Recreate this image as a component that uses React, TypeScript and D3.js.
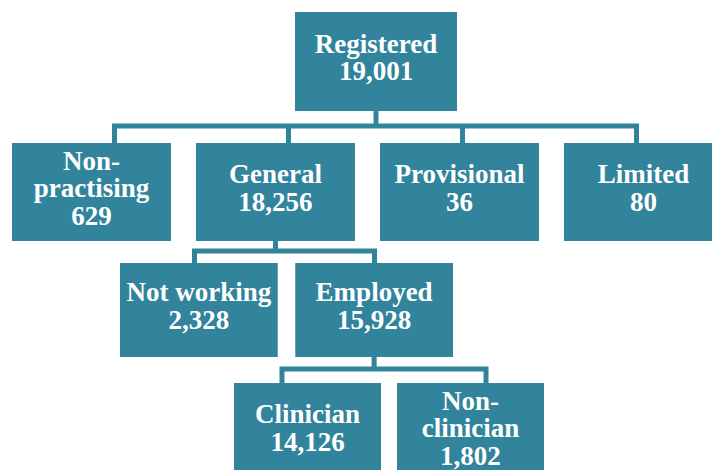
import * as d3 from "d3";

// node names, counts and parent links
const names = ["Registered", "Non-practising", "General", "Provisional", "Limited", "Not working", "Employed", "Clinician", "Non-clinician"];
const counts = [19001, 629, 18256, 36, 80, 2328, 15928, 14126, 1802];
const parents = ["", "Registered", "Registered", "Registered", "Registered", "General", "General", "Employed", "Employed"];

const W = 712;
const H = 470;
const teal = "#31849b";
const fmt = d3.format(",");

type Row = { name: string; count: number; parent: string };

const rows: Row[] = names.map((n, i) => ({ name: n, count: counts[i], parent: parents[i] }));
const root = d3
  .stratify<Row>()
  .id(d => d.name)
  .parentId(d => d.parent || null)(rows);

// layout per depth
const rowTop = d3.scaleOrdinal<number, number>().domain([0, 1, 2, 3]).range([12, 143, 263, 383]);
const rowH = d3.scaleOrdinal<number, number>().domain([0, 1, 2, 3]).range([99, 98, 94, 98]);
const bandRange: [number, number][] = [[295, 457], [12, 723], [120, 453], [234, 544]];
const bandPad = [0, 0.136, 0.1, 0.098];
const stemRange: [number, number][] = [[376, 376], [114.5, 636.5], [194.5, 374.5], [282, 486]];

const levels = d3.group(root.descendants(), d => d.depth);
const xBand = new Map<number, d3.ScaleBand<string>>();
const xStem = new Map<number, d3.ScalePoint<string>>();
levels.forEach((nodes, depth) => {
  const ids = nodes.map(n => n.id as string);
  xBand.set(depth, d3.scaleBand<string>().domain(ids).range(bandRange[depth]).paddingInner(bandPad[depth]));
  xStem.set(depth, d3.scalePoint<string>().domain(ids).range(stemRange[depth]));
});

const boxOf = (n: d3.HierarchyNode<Row>) => {
  const b = xBand.get(n.depth)!;
  const x = b(n.id as string)!;
  const y = rowTop(n.depth);
  return { x, y, w: b.bandwidth(), h: rowH(n.depth) };
};

const wrap = (name: string) => (name.includes("-") ? name.replace("-", "-\n").split("\n") : [name]);

export default function App() {
  const nodes = root.descendants();
  const parentsWithKids = nodes.filter(n => n.children && n.children.length);

  const links = parentsWithKids.map(p => {
    const pb = boxOf(p);
    const kids = p.children!;
    const cb = boxOf(kids[0]);
    const busY = (pb.y + pb.h + cb.y) / 2 - 1;
    const px = pb.x + pb.w / 2;
    const stems = kids.map(k => xStem.get(k.depth)!(k.id as string)!);
    const path = d3.path();
    path.moveTo(px, pb.y + pb.h);
    path.lineTo(px, busY);
    path.moveTo(d3.min(stems)!, busY);
    path.lineTo(d3.max(stems)!, busY);
    kids.forEach((k, i) => {
      path.moveTo(stems[i], busY);
      path.lineTo(stems[i], boxOf(k).y);
    });
    return { key: p.id, d: path.toString() };
  });

  return (
    <svg
      width={W}
      height={H}
      viewBox={`0 0 ${W} ${H}`}
      style={{ position: "absolute", left: 0, top: 0, background: "#fff", overflow: "hidden" }}
    >
      <g>
        {links.map(l => (
          <path key={l.key} d={l.d} fill="none" stroke={teal} strokeWidth={5} strokeLinecap="square" />
        ))}
      </g>
      <g fontFamily="'Liberation Serif', 'Times New Roman', serif" fontWeight="bold" fontSize={27} fill="#fff" textAnchor="middle">
        {nodes.map(n => {
          const b = boxOf(n);
          const lines = [...wrap(n.data.name), fmt(n.data.count)];
          const cx = b.x + b.w / 2;
          const cy = b.y + b.h / 2;
          return (
            <g key={n.id}>
              <rect x={b.x} y={b.y} width={b.w} height={b.h} fill={teal} />
              {lines.map((t, i) => (
                <text key={i} x={cx} y={cy + 5 + (i - (lines.length - 1) / 2) * 27.5}>
                  {t}
                </text>
              ))}
            </g>
          );
        })}
      </g>
    </svg>
  );
}
